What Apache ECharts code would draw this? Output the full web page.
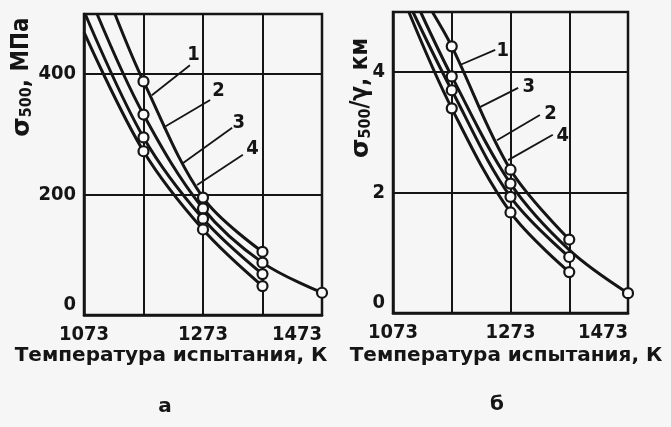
<!DOCTYPE html>
<html>
<head>
<meta charset="utf-8">
<script src="https://cdn.jsdelivr.net/npm/echarts@6/dist/echarts.min.js"></script>
<style>
  html, body { margin: 0; padding: 0; background: #f6f6f6; }
  #chart { width: 671px; height: 427px; }
</style>
</head>
<body>
<div id="chart"></div>
<script>
// Test temperatures, K
const testTemps = [1173, 1273, 1373, 1473];
// temperatures that carry a tick label
const labelledTemps = [1073, 1273, 1473];

// (a) long-term strength sigma_500, MPa, per alloy curve (top to bottom)
const sigmaA1 = [388, 195, 105];
const sigmaA2 = [333, 177, 87, 37];
const sigmaA3 = [295, 160, 68];
const sigmaA4 = [272, 142, 48];
// where each (a) curve enters the frame: [T, sigma]
const entryA = [[1125, 500], [1095, 500], [1075, 500], [1073, 470]];

// (b) specific strength sigma_500/gamma, km
const specB1 = [4.43, 2.38, 1.22];
const specB2 = [3.93, 2.15, 1.05, 0.33];
const specB3 = [3.70, 1.93, 0.93];
const specB4 = [3.40, 1.67, 0.68];
const entryB = [[1140, 5], [1120, 5], [1107, 5], [1100, 5]];

// curve numbers and their leader lines: [label, labelT, labelV, fromT, fromV, toT, toV]
const leadersA = [
  ['1', 1257, 432, 1251, 415, 1187, 365],
  ['2', 1299, 372, 1285, 357, 1206, 311],
  ['3', 1333, 320, 1322, 311, 1239, 252],
  ['4', 1356, 276, 1340, 266, 1263, 216]
];
const leadersB = [
  ['1', 1260, 4.36, 1247, 4.37, 1187, 4.12],
  ['3', 1304, 3.76, 1286, 3.74, 1221, 3.42],
  ['2', 1341, 3.31, 1323, 3.29, 1250, 2.87],
  ['4', 1362, 2.95, 1345, 2.96, 1269, 2.54]
];

const INK = '#151515';
const numFont = "'DejaVu Sans Condensed', sans-serif";
const textFont = "'DejaVu Sans', sans-serif";

function curveData(entry, values, hideIdx) {
  const pts = [{ value: entry, symbol: 'none' }];
  values.forEach((v, i) => {
    const p = { value: [testTemps[i], v] };
    if (hideIdx === i) p.symbol = 'none';
    pts.push(p);
  });
  return pts;
}

function curveSeries(idx, data) {
  return {
    type: 'line',
    xAxisIndex: idx, yAxisIndex: idx,
    data: data,
    smooth: 0.35,
    symbol: 'circle',
    symbolSize: 10,
    showAllSymbol: true,
    lineStyle: { color: INK, width: 3 },
    itemStyle: { color: '#fbfbfb', borderColor: INK, borderWidth: 2.2 },
    clip: true,
    silent: true,
    z: 3
  };
}

function leaderSeries(idx, leaders) {
  return [{
    type: 'lines',
    coordinateSystem: 'cartesian2d',
    xAxisIndex: idx, yAxisIndex: idx,
    data: leaders.map(l => ({ coords: [[l[3], l[4]], [l[5], l[6]]] })),
    lineStyle: { color: INK, width: 1.8, opacity: 1 },
    silent: true,
    z: 4
  }, {
    type: 'scatter',
    xAxisIndex: idx, yAxisIndex: idx,
    data: leaders.map(l => ({ value: [l[1], l[2]], name: l[0] })),
    symbolSize: 0,
    itemStyle: { opacity: 1 },
    label: {
      show: true, position: 'inside', formatter: '{b}',
      color: INK, fontFamily: numFont, fontWeight: 'bold', fontSize: 20
    },
    silent: true,
    z: 5
  }];
}

function xAxisFor(idx) {
  return {
    type: 'value', gridIndex: idx,
    min: 1073, max: 1473, interval: 100,
    axisLine: { show: true, lineStyle: { color: INK, width: 2.5 } },
    axisTick: { show: false },
    splitLine: { show: true, lineStyle: { color: INK, width: 2 } },
    axisLabel: {
      margin: 10, alignMaxLabel: 'right',
      formatter: v => (labelledTemps.indexOf(v) >= 0 ? String(v) : ''),
      color: INK, fontFamily: numFont, fontWeight: 'bold', fontSize: 20
    }
  };
}

function yAxisFor(idx, max, interval) {
  return {
    type: 'value', gridIndex: idx,
    min: 0, max: max, interval: interval,
    axisLine: { show: true, lineStyle: { color: INK, width: 2.5 } },
    axisTick: { show: false },
    splitLine: { show: true, lineStyle: { color: INK, width: 2 } },
    axisLabel: {
      showMaxLabel: false, margin: 8, verticalAlignMinLabel: 'bottom',
      color: INK, fontFamily: numFont, fontWeight: 'bold', fontSize: 20
    }
  };
}

function vTitle(x, y, parts) {
  return {
    type: 'text', x: x, y: y, rotation: Math.PI / 2,
    style: {
      text: parts, x: 0, y: 0, align: 'center', verticalAlign: 'middle',
      fill: INK, rich: titleRich
    }
  };
}

const titleRich = {
  s: { fontFamily: textFont, fontWeight: 'bold', fontSize: 25, fill: INK },
  sub: { fontFamily: numFont, fontWeight: 'bold', fontSize: 16, fill: INK, verticalAlign: 'bottom', padding: [10, 0, 0, 0] },
  n: { fontFamily: numFont, fontWeight: 'bold', fontSize: 24, fill: INK }
};

const bottomText = (x, y, text) => ({
  type: 'text', x: x, y: y,
  style: { text: text, align: 'center', verticalAlign: 'middle', fill: INK, font: 'bold 20px ' + textFont }
});

const chart = echarts.init(document.getElementById('chart'), null, { renderer: 'canvas' });
chart.setOption({
  backgroundColor: '#f6f6f6',
  animation: false,
  grid: [
    { left: 84, top: 14, width: 238, height: 301, show: true, borderColor: INK, borderWidth: 2.5, containLabel: false },
    { left: 393, top: 12, width: 235, height: 301, show: true, borderColor: INK, borderWidth: 2.5, containLabel: false }
  ],
  xAxis: [xAxisFor(0), xAxisFor(1)],
  yAxis: [yAxisFor(0, 500, 200), yAxisFor(1, 5, 2)],
  graphic: [
    vTitle(22, 77, '{s|σ}{sub|500}{n|, МПа}'),
    vTitle(361, 98, '{s|σ}{sub|500}{n|/γ, км}'),
    bottomText(171, 356, 'Температура испытания, К'),
    bottomText(506, 356, 'Температура испытания, К'),
    bottomText(165, 407, 'а'),
    bottomText(497, 405, 'б')
  ],
  series: [
    curveSeries(0, curveData(entryA[0], sigmaA1)),
    curveSeries(0, curveData(entryA[1], sigmaA2)),
    curveSeries(0, curveData(entryA[2], sigmaA3)),
    curveSeries(0, curveData(entryA[3], sigmaA4)),
    curveSeries(1, curveData(entryB[0], specB1)),
    curveSeries(1, curveData(entryB[1], specB2, 2)),
    curveSeries(1, curveData(entryB[2], specB3)),
    curveSeries(1, curveData(entryB[3], specB4)),
    ...leaderSeries(0, leadersA),
    ...leaderSeries(1, leadersB)
  ]
});
</script>
</body>
</html>
